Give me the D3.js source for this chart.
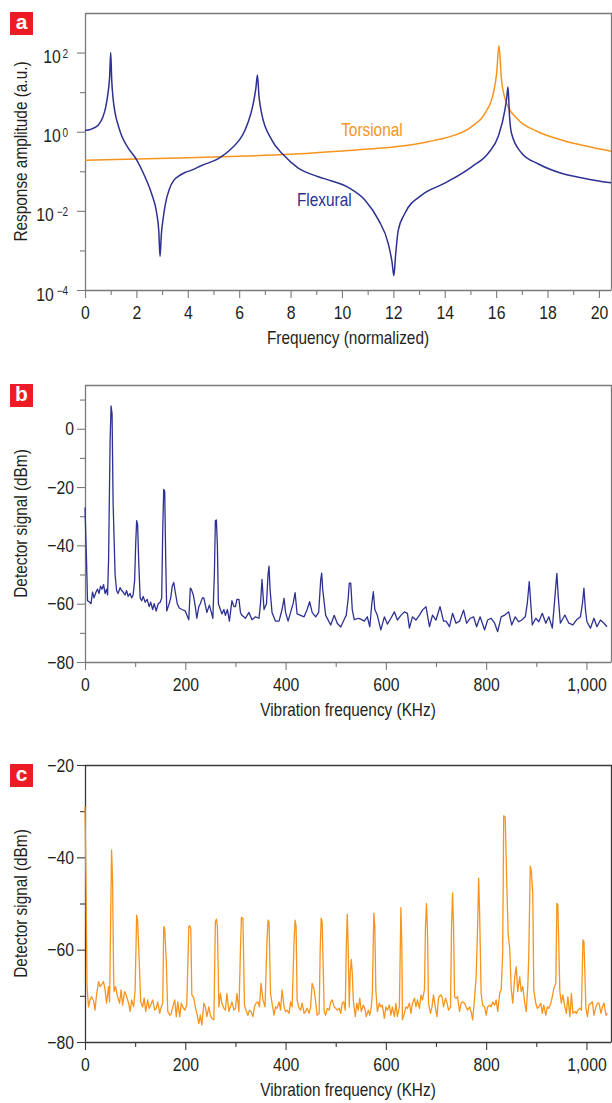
<!DOCTYPE html>
<html>
<head>
<meta charset="utf-8">
<script src="https://cdn.jsdelivr.net/npm/d3@7"></script>
<style>
  body { margin: 0; background: #fff; }
  svg { display: block; font-family: 'Liberation Sans', Arial, sans-serif; }
</style>
</head>
<body>
<svg id="chart"></svg>
<script>
// panel a: [normalized frequency, response amplitude]
const flexural = [[0,1.07],[0.3,1.2],[0.52,1.48],[0.7,2.4],[0.8,4],[0.9,10],[0.96,25],[1.0,100],[1.04,20],[1.1,6.3],[1.17,3],[1.3,1.4],[1.43,0.78],[1.69,0.38],[2.01,0.195],[2.33,0.074],[2.59,0.0275],[2.79,0.0087],[2.87,0.0032],[2.92,0.0007],[2.97,0.0025],[3.05,0.007],[3.12,0.014],[3.3,0.038],[3.45,0.058],[3.63,0.074],[3.89,0.093],[4.15,0.107],[4.54,0.14],[5.19,0.21],[5.71,0.38],[6.23,1.1],[6.45,2.8],[6.55,5.2],[6.65,12.6],[6.71,27],[6.77,8],[6.87,3],[7.26,0.63],[7.72,0.26],[8.3,0.12],[9.08,0.073],[9.6,0.057],[10.31,0.037],[10.9,0.0186],[11.42,0.0059],[11.8,0.0015],[11.95,0.0005],[12.02,0.00023],[12.09,0.0008],[12.19,0.0032],[12.45,0.0087],[13.1,0.025],[14.0,0.05],[15.05,0.13],[15.7,0.29],[16.08,0.76],[16.34,3.5],[16.42,8],[16.46,13.5],[16.52,2.5],[16.6,0.9],[16.99,0.29],[17.63,0.155],[18.54,0.089],[19.45,0.066],[20.47,0.051]];
const torsional = [[0,0.19],[2,0.205],[4,0.22],[6,0.24],[8,0.27],[10.12,0.33],[11.42,0.38],[12.71,0.47],[13.35,0.56],[14.0,0.69],[15.05,1.35],[15.57,2.95],[15.89,9.3],[16.02,30],[16.11,150],[16.21,20],[16.41,5.2],[16.86,2.0],[17.63,1.0],[18.54,0.62],[19.45,0.44],[20.47,0.32]];

// panel b: [kHz, dBm]
const spectrumB = [[0,-27],[3,-45],[5,-59],[8,-59.3],[12,-60],[15,-56],[18,-58],[22,-56],[25,-55],[28,-56.5],[31,-54],[34,-55],[37,-53.5],[40,-56.5],[43,-55],[45,-57],[47,-45],[50,-5],[52,7.8],[54,5],[56,-25],[60,-50],[63,-55.5],[66,-56.5],[70,-54.5],[73,-55.5],[76,-56],[80,-57],[83,-55.5],[86,-57.5],[90,-56.5],[93,-58],[96,-57],[99,-52],[101,-40],[103,-31.5],[105,-33],[107,-45],[110,-58],[113,-59],[116,-57.5],[120,-59.5],[124,-58.5],[128,-61],[131,-59.5],[135,-62],[138,-60],[142,-62.5],[146,-60],[150,-59.5],[153,-58],[155,-35],[157,-20.8],[159,-21.5],[161,-45],[163,-62.5],[167,-60.5],[171,-58],[174,-54],[177,-52.7],[180,-56],[184,-60],[188,-61.5],[193,-62],[200,-62.5],[207,-65.5],[210,-54.7],[212,-55],[216,-57],[220,-61],[223,-65],[227,-61],[230,-60],[234,-58],[237,-58],[240,-60.5],[243,-63],[248,-60.5],[252,-63],[255,-65],[258,-50],[260,-31.5],[262,-31.3],[264,-40],[266,-60],[270,-62],[273,-63.5],[277,-62],[280,-64],[284,-62],[288,-66],[293,-59],[297,-61],[300,-61],[303,-58.5],[307,-58.5],[310,-63],[313,-64],[320,-65],[327,-63],[333,-65.5],[340,-64.5],[347,-65],[350,-60],[353,-51.7],[357,-62],[362,-60],[365,-50],[367,-47.1],[369,-55],[373,-63],[380,-66],[387,-66],[393,-62],[397,-58.2],[400,-63],[405,-66],[410,-63],[415,-60],[419,-56.2],[423,-63.5],[430,-64],[437,-64.5],[443,-62],[448,-59.3],[453,-63],[460,-64.5],[466,-63],[470,-52],[472,-49.5],[474,-55],[480,-64],[490,-67.3],[497,-64],[503,-66.7],[510,-68],[518,-65],[521,-64],[525,-58],[527,-53],[530,-53],[533,-62],[537,-65.5],[545,-65],[550,-65.3],[557,-66],[563,-64.5],[568,-67.9],[572,-60],[575,-55.9],[578,-62],[583,-64],[590,-69],[597,-64.5],[603,-67],[610,-65],[617,-62.8],[623,-65.6],[630,-64],[637,-62.8],[643,-63.3],[647,-68.4],[653,-64.5],[660,-65.6],[667,-63.9],[673,-62.2],[680,-61],[687,-67.9],[693,-63.9],[700,-65.6],[708,-61],[715,-66],[720,-66],[727,-67.9],[733,-63.3],[740,-66.7],[747,-66],[755,-62.2],[761,-66.7],[768,-65],[775,-64.5],[781,-67.9],[788,-64.5],[797,-69],[803,-65.6],[810,-65],[817,-66.7],[823,-69.6],[830,-64.5],[837,-63.9],[845,-62.8],[851,-67.3],[858,-64.5],[865,-66.2],[871,-65.6],[878,-64.5],[882,-60],[886,-52.4],[889,-60],[892,-67.3],[899,-65],[905,-66.2],[912,-63.3],[919,-66.7],[925,-64.5],[932,-68.4],[937,-58],[941,-49.6],[944,-58],[948,-66.7],[957,-63.9],[965,-66.7],[973,-67.3],[980,-65.6],[988,-64.5],[992,-60],[995,-54.7],[998,-62],[1001,-66.2],[1008,-68.4],[1015,-65],[1021,-67.9],[1028,-65.6],[1035,-66.7],[1041,-67.9]];

// panel c: [kHz, dBm]
const spectrumC = [[0,-29],[2,-45],[4,-68],[7,-72.4],[10,-70.9],[13,-70.2],[17,-71],[20,-73.1],[23,-69.8],[27,-66.9],[30,-68],[33,-67.6],[37,-66.9],[40,-68.7],[43,-71.6],[47,-68],[49,-71.3],[51,-55],[53,-38.4],[55,-45],[57,-65],[58,-69.1],[61,-68],[65,-70.2],[69,-71.6],[72,-68.7],[75,-72],[79,-69.1],[82,-69.8],[87,-71.6],[90,-73.4],[93,-70.9],[97,-72.4],[100,-68.7],[103,-52.5],[105,-54],[108,-62.2],[111,-71.3],[115,-72.4],[118,-70.5],[121,-73.4],[125,-70.9],[128,-72.7],[131,-72],[135,-70.9],[139,-73.1],[142,-72.7],[145,-71.3],[149,-73.8],[152,-72.4],[155,-71.6],[157,-55],[159,-55.5],[162,-62.2],[165,-73.4],[169,-74.2],[172,-73.8],[175,-72.4],[179,-70.9],[182,-74.5],[185,-71.3],[189,-74.5],[192,-71.6],[195,-72.4],[199,-73.1],[203,-72],[207,-55],[209,-54.8],[211,-55.5],[213,-69.8],[217,-70.5],[220,-72.4],[223,-73.8],[227,-76],[230,-74.2],[233,-76.3],[237,-71.6],[240,-72.4],[243,-74.5],[247,-72.4],[250,-74.2],[253,-74.9],[257,-75.2],[260,-54],[262,-53.4],[264,-55],[267,-72.4],[270,-69.5],[273,-71.6],[277,-72.7],[280,-73.1],[283,-69.5],[287,-73.4],[290,-72.4],[293,-71.3],[297,-73.1],[300,-72.7],[303,-69.5],[307,-73.4],[310,-60],[312,-53],[315,-53.2],[318,-72],[321,-73.1],[325,-74.2],[328,-73.1],[331,-73.4],[335,-74.5],[338,-72.4],[341,-71.6],[345,-71.3],[348,-72.4],[351,-67.3],[355,-70.9],[359,-72.4],[363,-58],[365,-53.6],[367,-54],[370,-69.5],[373,-71.6],[377,-74.2],[380,-72.4],[383,-72.7],[387,-71.3],[390,-73.1],[393,-68.7],[397,-72.4],[400,-73.4],[403,-73.1],[407,-73.8],[410,-71.3],[413,-72.4],[417,-58],[419,-53.6],[421,-55],[423,-70.9],[427,-72.7],[430,-73.1],[433,-71.6],[437,-73.8],[440,-73.4],[443,-72.7],[447,-73.8],[450,-72.4],[453,-67.3],[457,-68.7],[460,-71.3],[463,-74.2],[467,-73.8],[469,-60],[471,-53.2],[473,-54],[477,-73.4],[480,-74.2],[483,-72.7],[487,-73.1],[490,-71.3],[493,-70.9],[497,-72.4],[500,-72.7],[503,-73.1],[507,-72.7],[510,-73.8],[513,-71.6],[516,-71.3],[519,-73.1],[521,-60],[523,-52.3],[525,-60],[527,-72.4],[529,-65],[531,-62.1],[533,-65],[535,-70.9],[539,-74.5],[542,-71.6],[545,-73.1],[548,-70.5],[551,-73.4],[555,-72],[558,-72.7],[561,-74.5],[565,-73.1],[568,-74.2],[571,-72.4],[573,-69.5],[576,-52.1],[578,-55],[580,-68.7],[583,-73.4],[587,-71.6],[590,-72.4],[593,-72],[597,-74.9],[600,-72.4],[603,-73.1],[607,-72],[610,-74.2],[613,-72.4],[617,-74.5],[620,-71.6],[623,-74.5],[627,-72.4],[630,-50.9],[632,-60],[633,-75.2],[637,-73.8],[640,-72.4],[643,-72.7],[647,-71.6],[650,-73.8],[653,-71.6],[657,-70.5],[660,-72.4],[663,-70.9],[667,-72.7],[670,-69.8],[673,-70.9],[677,-68.7],[679,-55],[681,-50],[683,-56],[685,-71.6],[689,-73.8],[692,-72.4],[695,-69.8],[699,-72.7],[702,-74.5],[705,-70.5],[709,-69.8],[712,-70.2],[715,-72.4],[719,-70.5],[722,-71.6],[725,-73.1],[729,-72.4],[731,-55],[733,-47.7],[735,-55],[737,-70.2],[740,-70.5],[743,-70.2],[747,-73.4],[750,-71.6],[753,-71.3],[757,-71.6],[760,-72.4],[763,-73.1],[767,-72.4],[770,-73.4],[773,-75.2],[777,-70.5],[780,-65.9],[783,-55],[785,-44.5],[787,-52],[790,-69.5],[793,-72],[797,-72.4],[800,-74.2],[803,-72.4],[807,-72],[810,-72.4],[813,-71.3],[817,-72],[820,-70.9],[823,-73.4],[827,-69.5],[830,-68.7],[833,-60.8],[835,-31],[838,-31.3],[841,-45],[844,-56.8],[847,-59.7],[850,-68.4],[853,-71.6],[857,-65.9],[860,-63.7],[863,-69.1],[867,-65.9],[870,-69.1],[873,-68],[877,-71.6],[880,-73.4],[883,-68],[885,-61.5],[888,-41.9],[890,-43],[893,-47.8],[895,-68.7],[899,-71.6],[902,-72.7],[905,-72.4],[909,-71.6],[912,-73.8],[915,-72],[919,-74.2],[922,-72.4],[925,-72.7],[929,-71.6],[932,-70.2],[935,-68.4],[939,-67.3],[941,-50],[943,-50.3],[947,-69.1],[950,-71.6],[953,-69.8],[957,-72.4],[960,-73.8],[963,-70.2],[967,-74.5],[970,-69.5],[973,-73.8],[977,-73.4],[980,-73.8],[983,-73.1],[987,-72.7],[990,-73.1],[993,-57.9],[995,-58.2],[999,-72.7],[1002,-74.5],[1005,-72],[1009,-71.6],[1012,-71.3],[1015,-74.2],[1019,-72.4],[1022,-71.6],[1025,-71.6],[1029,-73.8],[1032,-72.4],[1035,-71.6],[1039,-74.2],[1042,-73.8]];

// ticks
const ticksNorm = [0,2,4,6,8,10,12,14,16,18,20];
const minorNorm = [1,3,5,7,9,11,13,15,17,19];
const ticksAmp = [1e-4,1e-2,1e0,1e2];
const minorAmp = [1e-3,1e-1,1e1];
const ticksKHz = [0,200,400,600,800,1000];
const minorKHz = [100,300,500,700,900];
const ticksB = [-80,-60,-40,-20,0];
const minorB = [-70,-50,-30,-10,10];
const ticksC = [-80,-60,-40,-20];
const minorC = [-70,-50,-30];

const blue = '#2e3192', orange = '#f7941d', red = '#ed1c24', ink = '#231f20';
const left = 85, right = 611;
const squeeze = 0.83;

const svg = d3.select('#chart').attr('width', 612).attr('height', 1103);

function panel(o) {
  const g = svg.append('g').attr('color', o.axisColor);
  const x = o.x, y = o.y;

  g.append('path')
    .attr('d', `M${left},${o.top + 0.5}H${right + 0.5}V${o.bottom}`)
    .attr('fill', 'none').attr('stroke', o.axisColor).attr('stroke-width', 1.3);

  g.append('g').attr('transform', `translate(0,${o.bottom})`)
    .call(d3.axisBottom(x).tickValues(o.xMajor).tickSize(8).tickSizeOuter(0).tickPadding(8).tickFormat(d3.format(',')));
  g.append('g').attr('transform', `translate(0,${o.bottom})`)
    .call(d3.axisBottom(x).tickValues(o.xMinor).tickSize(5).tickFormat(''))
    .select('.domain').remove();

  const yAxis = g.append('g').attr('transform', `translate(${left},0)`)
    .call(d3.axisLeft(y).tickValues(o.yMajor).tickSize(8).tickSizeOuter(0).tickPadding(3).tickFormat(o.yFormat));
  g.append('g').attr('transform', `translate(${left},0)`)
    .call(d3.axisLeft(y).tickValues(o.yMinor).tickSize(5).tickFormat(''))
    .select('.domain').remove();

  g.selectAll('g').attr('font-family', null);
  g.selectAll('.domain').attr('stroke-width', 1.3);
  g.selectAll('.tick line').attr('stroke-width', 1.1);
  g.selectAll('.tick text').attr('fill', ink).attr('font-size', 19).classed('cond', true);

  g.append('text').attr('class', 'cond')
    .attr('x', (left + right) / 2).attr('y', o.bottom + 54)
    .attr('text-anchor', 'middle').attr('font-size', 18.5).attr('fill', ink)
    .text(o.xTitle);
  g.append('text').attr('class', 'cond')
    .attr('transform', `translate(27,${(o.top + o.bottom) / 2}) rotate(-90)`)
    .attr('text-anchor', 'middle').attr('font-size', 18.5).attr('fill', ink)
    .text(o.yTitle);

  svg.append('rect').attr('x', 10).attr('y', o.top - 1).attr('width', 23).attr('height', 23).attr('fill', red);
  svg.append('text').attr('x', 21.5).attr('y', o.top + 16)
    .attr('text-anchor', 'middle').attr('fill', '#fff')
    .attr('font-weight', 'bold').attr('font-size', 21)
    .text(o.letter);

  return {g, yAxis};
}

// panel a
const xA = d3.scaleLinear().domain([0, 20.47]).range([left, right]);
const yA = d3.scaleLog().domain([1e-4, 1e3]).range([290, 13]);
const pa = panel({
  top: 13, bottom: 290, x: xA, y: yA, axisColor: '#7a7a7a',
  xMajor: ticksNorm, xMinor: minorNorm, yMajor: ticksAmp, yMinor: minorAmp,
  yFormat: d => '', letter: 'a',
  xTitle: 'Frequency (normalized)', yTitle: 'Response amplitude (a.u.)'
});
// powers of ten: base and exponent as two separate texts
pa.yAxis.selectAll('.tick').each(function(d) {
  const tick = d3.select(this);
  tick.select('text').remove();
  const e = Math.round(Math.log10(d));
  const sup = tick.append('text')
    .attr('x', -17).attr('y', 4.5).attr('text-anchor', 'end')
    .attr('font-size', 12).attr('fill', ink)
    .text(e < 0 ? '\u2212' + (-e) : String(e));
  const w = sup.node().getComputedTextLength();
  sup.attr('textLength', w * squeeze).attr('lengthAdjust', 'spacingAndGlyphs');
  tick.append('text').attr('class', 'cond')
    .attr('x', -17 - w - 0.5).attr('y', 10).attr('text-anchor', 'end')
    .attr('font-size', 19).attr('fill', ink)
    .text('10');
});

const lineA = d3.line().x(d => xA(d[0])).y(d => yA(d[1])).curve(d3.curveMonotoneX);
pa.g.append('path').datum(torsional).attr('d', lineA)
  .attr('fill', 'none').attr('stroke', orange).attr('stroke-width', 1.5);
pa.g.append('path').datum(flexural).attr('d', lineA)
  .attr('fill', 'none').attr('stroke', blue).attr('stroke-width', 1.5);

pa.g.append('text').attr('class', 'cond').attr('x', xA(9.97)).attr('y', yA(0.78))
  .attr('font-size', 18.5).attr('fill', orange).text('Torsional');
pa.g.append('text').attr('class', 'cond').attr('x', xA(8.25)).attr('y', yA(0.013))
  .attr('font-size', 18.5).attr('fill', blue).text('Flexural');

// panel b
const xKHz = d3.scaleLinear().domain([0, 1049]).range([left, right]);
const yB = d3.scaleLinear().domain([-80, 15]).range([662, 385]);
const pb = panel({
  top: 385, bottom: 662, x: xKHz, y: yB, axisColor: '#7a7a7a',
  xMajor: ticksKHz, xMinor: minorKHz, yMajor: ticksB, yMinor: minorB,
  yFormat: d3.format(''), letter: 'b',
  xTitle: 'Vibration frequency (KHz)', yTitle: 'Detector signal (dBm)'
});
pb.g.append('path').datum(spectrumB)
  .attr('d', d3.line().x(d => xKHz(d[0])).y(d => yB(d[1])))
  .attr('fill', 'none').attr('stroke', blue).attr('stroke-width', 1.3).attr('stroke-linejoin', 'round');

// panel c
const yC = d3.scaleLinear().domain([-80, -20]).range([1042, 765]);
const pc = panel({
  top: 765, bottom: 1042, x: xKHz, y: yC, axisColor: '#3a3a3a',
  xMajor: ticksKHz, xMinor: minorKHz, yMajor: ticksC, yMinor: minorC,
  yFormat: d3.format(''), letter: 'c',
  xTitle: 'Vibration frequency (KHz)', yTitle: 'Detector signal (dBm)'
});
pc.g.append('path').datum(spectrumC)
  .attr('d', d3.line().x(d => xKHz(d[0])).y(d => yC(d[1])))
  .attr('fill', 'none').attr('stroke', orange).attr('stroke-width', 1.3).attr('stroke-linejoin', 'round');

// no condensed face installed, so squeeze the text horizontally
svg.selectAll('text.cond').each(function() {
  const len = this.getComputedTextLength();
  d3.select(this).attr('textLength', len * squeeze).attr('lengthAdjust', 'spacingAndGlyphs');
});
</script>
</body>
</html>
